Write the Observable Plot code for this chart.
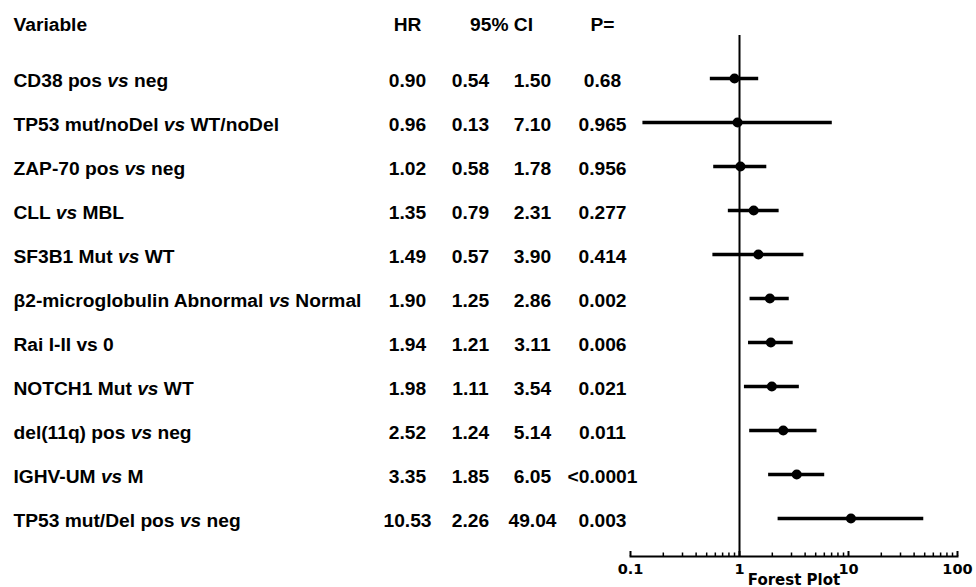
<!DOCTYPE html>
<html><head><meta charset="utf-8">
<script src="https://cdn.jsdelivr.net/npm/d3@7"></script>
<script src="https://cdn.jsdelivr.net/npm/@observablehq/plot@0.6"></script>
<style>
body{margin:0;background:#fff;}
#chart{width:976px;height:587px;overflow:hidden;}
</style>
</head><body><div id="chart"></div>
<script>
// ---- data ----
const variables = [
  "CD38 pos vs neg",
  "TP53 mut/noDel vs WT/noDel",
  "ZAP-70 pos vs neg",
  "CLL vs MBL",
  "SF3B1 Mut vs WT",
  "β2-microglobulin Abnormal vs Normal",
  "Rai I-II vs 0",
  "NOTCH1 Mut vs WT",
  "del(11q) pos vs neg",
  "IGHV-UM vs M",
  "TP53 mut/Del pos vs neg"
];
const italicVs = [true, true, true, true, true, true, false, true, true, true, true];
const hr      = [0.90, 0.96, 1.02, 1.35, 1.49, 1.90, 1.94, 1.98, 2.52, 3.35, 10.53];
const ciLower = [0.54, 0.13, 0.58, 0.79, 0.57, 1.25, 1.21, 1.11, 1.24, 1.85, 2.26];
const ciUpper = [1.50, 7.10, 1.78, 2.31, 3.90, 2.86, 3.11, 3.54, 5.14, 6.05, 49.04];
const pValues = ["0.68", "0.965", "0.956", "0.277", "0.414", "0.002", "0.006", "0.021", "0.011", "<0.0001", "0.003"];
const headers = ["Variable", "HR", "95% CI", "P="];
const majorTicks = [0.1, 1, 10, 100];
const tickLabels = ["0.1", "1", "10", "100"];
const axisTitle = "Forest Plot";

const rows = variables.map((v, i) => ({variable: v, hr: hr[i], lo: ciLower[i], hi: ciUpper[i], p: pValues[i]}));
const minorTicks = [];
for (const d of [0.1, 1, 10]) for (let k = 2; k <= 9; k++) minorTicks.push(+(d * k).toFixed(2));

// ---- layout ----
const W = 976, H = 587, ML = 630, MR = 19, MT = 35, MB = 31;
const col = {variable: 13, hr: 407, lo: 470, hi: 532, p: 602, ci: 501};
const tf = {fontFamily: "Liberation Sans, Arial, sans-serif", fontWeight: "bold", fontSize: 19.2, fill: "black"};
const af = {fontFamily: "DejaVu Sans, Verdana, sans-serif", fontWeight: "bold", fontSize: 14.5, fill: "black"};
const rowText = (text, x, anchor, cls) => Plot.text(rows, {
  y: "variable", text, frameAnchor: "left", dx: x - ML, dy: 2.5, textAnchor: anchor, lineAnchor: "middle", className: cls, ...tf
});
const headText = (t, x, anchor) => Plot.text([t], {
  frameAnchor: "top-left", dx: x - ML, dy: -10.3, textAnchor: anchor, lineAnchor: "middle", ...tf
});

const chart = Plot.plot({
  width: W, height: H,
  marginLeft: ML, marginRight: MR, marginTop: MT, marginBottom: MB,
  style: {background: "white", color: "black", overflow: "visible"},
  x: {type: "log", domain: [0.1, 100]},
  y: {type: "point", domain: variables, range: [78, 518], padding: 0, axis: null},
  marks: [
    Plot.frame({anchor: "bottom", strokeWidth: 2, stroke: "black"}),
    Plot.axisX(minorTicks, {anchor: "bottom", tickSize: -3.5, tickFormat: () => "", strokeWidth: 1.5, label: null}),
    Plot.axisX(majorTicks, {anchor: "bottom", tickSize: -5, tickFormat: () => "", strokeWidth: 2, label: null}),
    Plot.text(majorTicks, {x: d => d, text: (d, i) => tickLabels[i], frameAnchor: "bottom", lineAnchor: "top", dy: 7, ...af}),
    Plot.text([axisTitle], {frameAnchor: "bottom", lineAnchor: "bottom", dy: 28, ...af, fontSize: 15}),
    Plot.ruleX([1], {strokeWidth: 2, stroke: "black"}),
    Plot.ruleY(rows, {y: "variable", x1: "lo", x2: "hi", strokeWidth: 3.5, stroke: "black"}),
    Plot.dot(rows, {x: "hr", y: "variable", r: 5, fill: "black"}),
    headText(headers[0], col.variable, "start"),
    headText(headers[1], col.hr, "middle"),
    headText(headers[2], col.ci, "middle"),
    headText(headers[3], col.p, "middle"),
    rowText("variable", col.variable, "start", "varlabel"),
    rowText(d => d.hr.toFixed(2), col.hr, "middle"),
    rowText(d => d.lo.toFixed(2), col.lo, "middle"),
    rowText(d => d.hi.toFixed(2), col.hi, "middle"),
    rowText("p", col.p, "middle")
  ]
});

// italic "vs"
chart.querySelectorAll("g.varlabel text").forEach((t, i) => {
  if (!italicVs[i]) return;
  const parts = t.textContent.split(" vs ");
  if (parts.length !== 2) return;
  t.textContent = "";
  t.appendChild(document.createTextNode(parts[0] + " "));
  const ts = document.createElementNS("http://www.w3.org/2000/svg", "tspan");
  ts.setAttribute("font-style", "italic");
  ts.textContent = "vs";
  t.appendChild(ts);
  t.appendChild(document.createTextNode(" " + parts[1]));
});

document.getElementById("chart").appendChild(chart);
</script>
</body></html>
